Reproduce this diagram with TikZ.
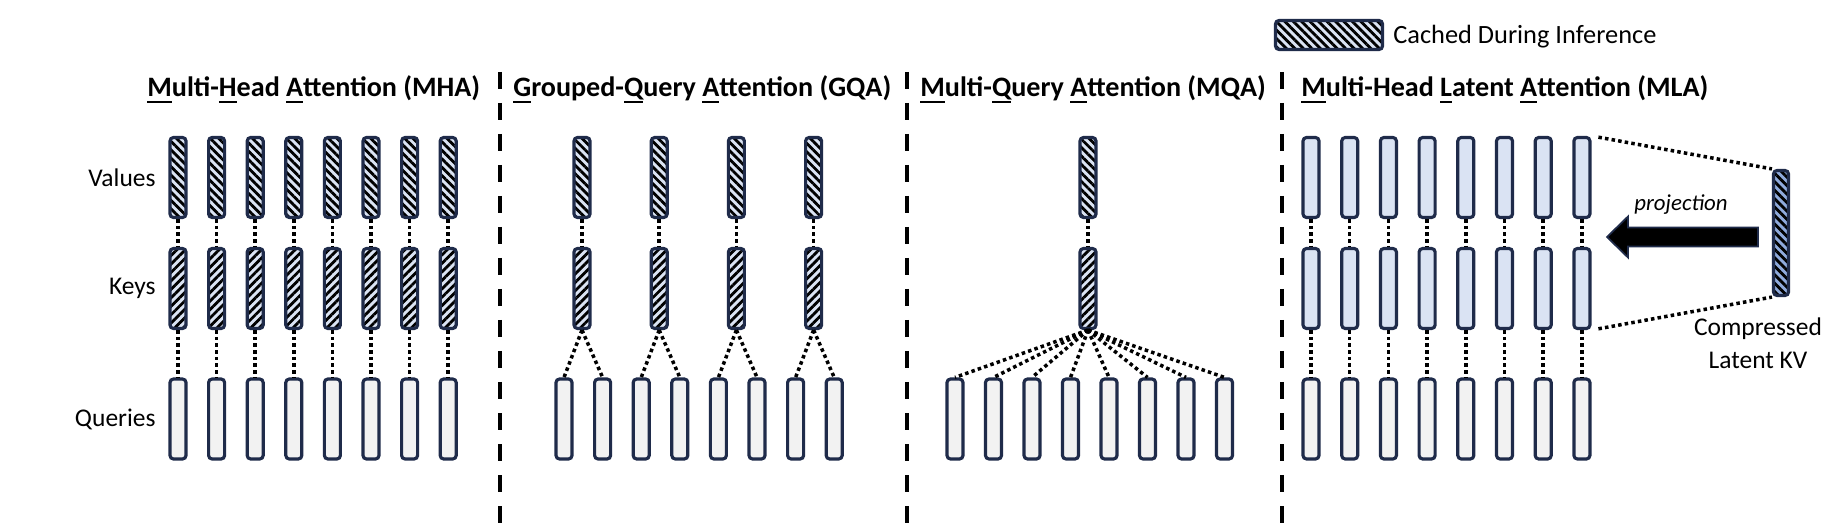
\documentclass[tikz,border=0pt]{standalone}
\usepackage{fontspec}
\setmainfont{Carlito}
\usetikzlibrary{calc,patterns.meta}
\definecolor{barline}{HTML}{1F2B4A}
\definecolor{kvfill}{HTML}{DAE3F3}
\definecolor{qfill}{HTML}{F2F2F2}
\definecolor{latfill}{HTML}{8FAADC}
\newcommand\firstl[1]{\sbox0{#1}\rlap{\rule[-3.5pt]{\wd0}{1.2pt}}\usebox0}
\tikzset{bar/.style={draw=barline,line width=1.8pt,rounded corners=2pt,minimum width=.32cm,minimum height=1.6cm,inner sep=0pt},
qbar/.style={bar,fill=qfill},mlabar/.style={bar,fill=kvfill},
vbar/.style={bar,preaction={fill=kvfill},preaction={pattern={Lines[angle=-45,distance=3.4pt,line width=1.6pt]},pattern color=black}},
kbar/.style={bar,preaction={fill=kvfill},preaction={pattern={Lines[angle=45,distance=3.4pt,line width=1.6pt]},pattern color=black}},
latbar/.style={bar,minimum width=.3cm,minimum height=2.5cm,preaction={fill=latfill},preaction={pattern={Lines[angle=-45,distance=3.4pt,line width=1.6pt]},pattern color=black}},
dots/.style={line width=2pt,dash pattern=on 2pt off 1.8pt},
sep/.style={line width=.08cm,dash pattern=on .34cm off .28cm},
ttl/.style={font=\fontsize{16}{19}\selectfont\bfseries,inner sep=0pt,anchor=base west},
lbl/.style={font=\fontsize{14.5}{17}\selectfont,inner sep=0pt}}
\begin{document}
\begin{tikzpicture}
\useasboundingbox(0,0)rectangle(36.64,10.56);
\node[vbar,minimum width=2.14cm,minimum height=.58cm](leg)at(26.58,9.86){};
\node[lbl,anchor=west,font=\fontsize{15}{18}\selectfont](legt)at(27.86,9.82){Cached During Inference};
\node[ttl](tmha)at(2.94,8.62){\firstl{M}ulti-\firstl{H}ead \firstl{A}ttention (MHA)};
\node[ttl](tgqa)at(10.26,8.62){\firstl{G}rouped-\firstl{Q}uery \firstl{A}ttention (GQA)};
\node[ttl](tmqa)at(18.4,8.62){\firstl{M}ulti-\firstl{Q}uery \firstl{A}ttention (MQA)};
\node[ttl](tmla)at(26.02,8.62){\firstl{M}ulti-Head \firstl{L}atent \firstl{A}ttention (MLA)};
\draw[sep](10,9.12)--(10,0);\draw[sep](18.14,9.12)--(18.14,0);\draw[sep](25.64,9.12)--(25.64,0);
\foreach \i in {1,...,8}{
\node[vbar](hv\i)at({3.56+.772*(\i-1)},7.01){};\node[kbar](hk\i)at({3.56+.772*(\i-1)},4.79){};\node[qbar](hq\i)at({3.56+.772*(\i-1)},2.18){};
\draw[dots](hv\i)--(hk\i);\draw[dots](hk\i)--(hq\i);}
\node[lbl,anchor=east](values)at($(hv1.west)-(.25,0)$){Values};
\node[lbl,anchor=east](keys)at($(hk1.west)-(.25,0)$){Keys};
\node[lbl,anchor=east](queries)at($(hq1.west)-(.25,0)$){Queries};
\foreach \j in {1,...,4}{
\node[vbar](gv\j)at({11.64+1.544*(\j-1)},7.01){};\node[kbar](gk\j)at({11.64+1.544*(\j-1)},4.79){};
\draw[dots](gv\j)--(gk\j);}
\foreach \i in {1,...,8}{\node[qbar](gq\i)at({11.28+.772*(\i-1)},2.18){};
\pgfmathtruncatemacro\j{(\i+1)/2}\draw[dots](gk\j.south)--(gq\i.north);}
\node[vbar](mv)at(21.76,7.01){};\node[kbar](mk)at(21.76,4.79){};\draw[dots](mv)--(mk);
\foreach \i in {1,...,8}{\node[qbar](mq\i)at({19.1+.77*(\i-1)},2.18){};\draw[dots](mk.south)--(mq\i.north);}
\foreach \i in {1,...,8}{
\node[mlabar](av\i)at({26.22+.774*(\i-1)},7.01){};\node[mlabar](ak\i)at({26.22+.774*(\i-1)},4.79){};\node[qbar](aq\i)at({26.22+.774*(\i-1)},2.18){};
\draw[dots](av\i)--(ak\i);\draw[dots](ak\i)--(aq\i);}
\node[latbar](lat)at(35.62,5.9){};
\draw[dots,shorten <=4pt](av8.north east)--(lat.north west);\draw[dots,shorten <=4pt](ak8.south east)--(lat.south west);
\coordinate(ptip)at(32.14,5.82);
\filldraw[draw=barline,fill=black,line width=1pt](ptip)--++(.42,.41)--++(0,-.22)--++(2.6,0)--++(0,-.38)--++(-2.6,0)--++(0,-.22)--cycle;
\node[lbl,font=\fontsize{13}{16}\selectfont\itshape,anchor=base](projt)at(33.62,6.34){projection};
\node[lbl,align=center,font=\fontsize{14.5}{18.8}\selectfont](latt)at(35.16,3.7){Compressed\\Latent KV};
\end{tikzpicture}
\end{document}
